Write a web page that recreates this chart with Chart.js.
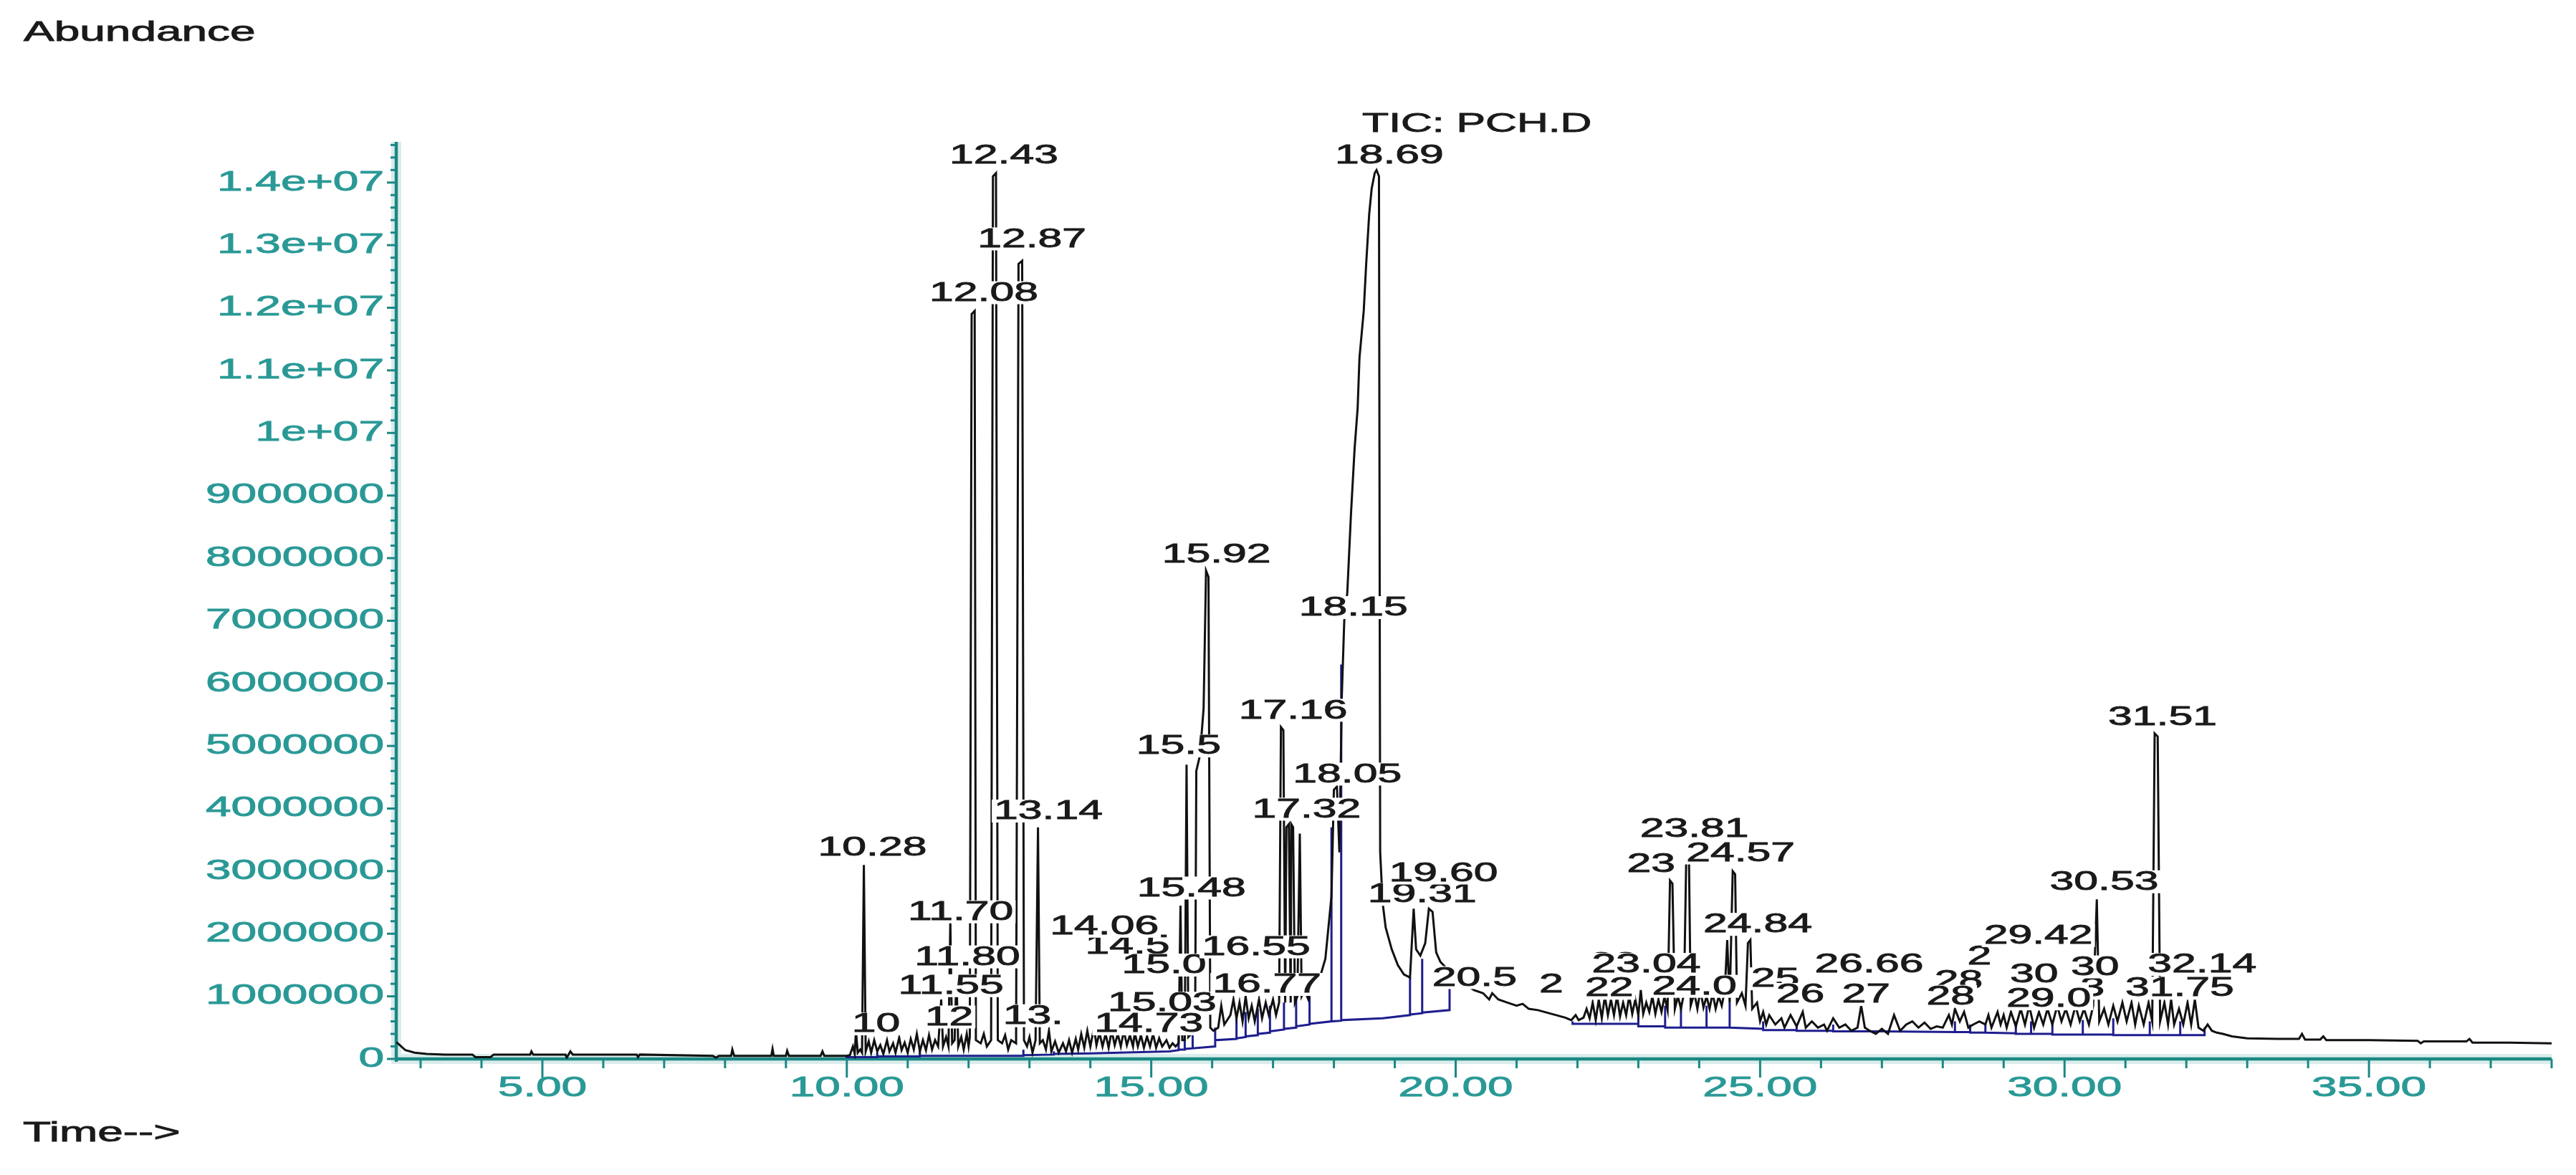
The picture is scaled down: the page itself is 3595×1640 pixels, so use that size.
<!DOCTYPE html>
<html>
<head>
<meta charset="utf-8">
<title>TIC: PCH.D</title>
<script src="https://cdn.jsdelivr.net/npm/chart.js@4.4.1/dist/chart.umd.min.js"></script>
<style>
  html, body { margin: 0; padding: 0; background: #fff; }
  #wrap { width: 3595px; height: 1640px; }
</style>
</head>
<body>
<div id="wrap"><canvas id="chart" width="3595" height="1640" style="width:3595px;height:1640px"></canvas></div>
<script>
// Chromatogram (TIC) – abundances in millions, retention time in minutes
const MILLION = 1e6;
const X_MIN = 2.6, X_MAX = 38.0, Y_MAX_M = 14.65;

// solvent tail and flat part before 10 min
const traceEarly = [
  [2.60,0.27],[2.66,0.22],[2.75,0.14],[2.90,0.10],[3.10,0.08],[3.40,0.07],[3.85,0.07],[3.90,0.03],[4.15,0.03],[4.20,0.07],
  [4.80,0.07],[4.82,0.12],[4.85,0.07],[5.38,0.07],[5.40,0.02],[5.46,0.12],[5.50,0.07],[6.55,0.07],[6.57,0.03],[6.60,0.07],
  [7.80,0.05],[7.85,0.02],[7.90,0.05],[8.10,0.05],[8.12,0.15],[8.15,0.05],[8.76,0.05],[8.78,0.16],[8.80,0.05],[9.00,0.05],
  [9.02,0.13],[9.05,0.05],[9.57,0.05],[9.60,0.12],[9.63,0.05],[10.00,0.05]
];
// 10 – 16 min
const traceA = [
  [10.05,0.06],[10.10,0.20],[10.13,0.08],[10.15,0.45],[10.18,0.10],[10.22,0.15],[10.25,0.10],[10.28,3.10],[10.31,0.12],
  [10.36,0.28],[10.40,0.10],[10.45,0.30],[10.50,0.12],[10.55,0.22],[10.60,0.08],[10.66,0.30],[10.70,0.12],[10.76,0.25],[10.80,0.10],
  [10.86,0.34],[10.90,0.14],[10.95,0.26],[11.00,0.10],[11.05,0.32],[11.10,0.15],[11.15,0.40],[11.20,0.12],[11.25,0.30],[11.30,0.14],
  [11.35,0.38],[11.40,0.15],[11.45,0.30],[11.50,0.20],[11.55,0.95],[11.58,0.20],[11.63,0.35],[11.67,0.20],[11.70,2.20],[11.73,0.25],
  [11.77,0.30],[11.80,1.35],[11.83,0.20],[11.88,0.35],[11.92,0.15],[11.97,0.40],[12.00,0.20],[12.02,0.35],[12.05,11.90],[12.10,11.95],
  [12.12,0.30],[12.20,0.25],[12.25,0.40],[12.30,0.20],[12.37,0.30],[12.40,14.10],[12.45,14.15],[12.48,0.30],[12.55,0.25],[12.60,0.38],
  [12.65,0.15],[12.70,0.30],[12.78,0.25],[12.82,12.70],[12.88,12.75],[12.91,0.30],[12.96,0.20],[13.00,0.35],[13.05,0.10],[13.10,0.30],
  [13.14,3.70],[13.17,0.25],[13.22,0.30],[13.27,0.15],[13.32,0.45],[13.36,0.12],[13.42,0.28],[13.48,0.10],[13.55,0.25],[13.60,0.12],
  [13.65,0.30],[13.70,0.10],[13.76,0.32],[13.80,0.15],[13.85,0.40],[13.90,0.18],[13.95,0.45],[14.00,0.20],[14.06,0.50],[14.10,0.22],
  [14.15,0.42],[14.20,0.20],[14.25,0.40],[14.30,0.18],[14.35,0.45],[14.40,0.22],[14.45,0.40],[14.50,0.20],[14.55,0.45],[14.60,0.22],
  [14.65,0.38],[14.70,0.20],[14.73,0.42],[14.78,0.20],[14.83,0.38],[14.88,0.18],[14.93,0.36],[14.98,0.20],[15.03,0.40],[15.08,0.18],
  [15.13,0.33],[15.18,0.20],[15.25,0.30],[15.30,0.18],[15.35,0.25],[15.40,0.20],[15.45,0.25],[15.48,2.45],[15.51,0.30],[15.55,0.30],
  [15.58,4.70],[15.61,0.35],[15.66,0.40],[15.72,0.45],[15.74,4.60],[15.80,4.85],[15.86,5.60],[15.90,7.80],[15.94,7.70],[15.97,0.50],
  [16.02,0.45]
];
// 16 – 18.8 min, up to the main peak
const traceB = [
  [16.10,0.50],[16.15,0.85],[16.20,0.55],[16.30,0.70],[16.35,0.95],[16.40,0.65],[16.45,0.90],[16.50,0.60],[16.55,1.00],[16.60,0.65],
  [16.65,0.85],[16.70,0.60],[16.77,0.95],[16.82,0.65],[16.88,0.90],[16.93,0.70],[17.00,0.95],[17.05,0.70],[17.10,0.90],[17.13,5.30],
  [17.17,5.25],[17.20,0.90],[17.22,3.70],[17.26,3.75],[17.29,0.90],[17.30,3.75],[17.33,3.70],[17.36,0.90],[17.40,1.00],[17.44,3.60],
  [17.47,1.00],[17.52,1.10],[17.58,0.95],[17.65,1.20],[17.72,1.10],[17.80,1.40],[17.86,1.60],[17.92,2.20],[17.96,2.60],[18.00,4.30],
  [18.05,4.35],[18.09,3.30],[18.13,5.80],[18.17,7.00],[18.22,7.45],[18.28,8.70],[18.34,9.75],[18.39,10.40],[18.42,11.20],[18.49,11.95],
  [18.53,12.70],[18.58,13.50],[18.62,13.90],[18.67,14.15],[18.70,14.20],[18.74,14.10],[18.76,3.30]
];
// tail of the main peak, 18.8 – 22.2 min
const traceC = [
  [18.80,2.50],[18.85,2.10],[18.95,1.75],[19.05,1.50],[19.15,1.35],[19.25,1.30],[19.31,2.40],[19.35,1.75],[19.42,1.65],[19.50,1.85],
  [19.56,2.40],[19.62,2.35],[19.68,1.70],[19.75,1.55],[19.85,1.45],[19.95,1.35],[20.05,1.25],[20.15,1.20],[20.30,1.10],[20.45,1.05],
  [20.55,0.95],[20.60,1.05],[20.70,0.95],[20.85,0.90],[21.00,0.85],[21.10,0.88],[21.20,0.80],[21.35,0.78],[21.50,0.74],[21.65,0.70],
  [21.80,0.66],[21.90,0.62],[21.97,0.70],[22.02,0.62],[22.10,0.66],[22.15,0.80],[22.20,0.65]
];
// 22.2 – 25.1 min
const traceD = [
  [22.25,0.90],[22.30,0.62],[22.35,0.95],[22.40,0.65],[22.45,1.00],[22.50,0.70],[22.55,0.95],[22.60,0.70],[22.65,1.00],[22.70,0.68],
  [22.75,0.90],[22.80,0.70],[22.85,1.00],[22.90,0.72],[22.95,0.95],[23.00,0.70],[23.04,1.10],[23.08,0.72],[23.13,0.90],[23.18,0.75],
  [23.23,1.00],[23.28,0.72],[23.33,0.95],[23.38,0.75],[23.43,1.00],[23.48,0.78],[23.52,2.85],[23.56,2.80],[23.60,0.80],[23.65,1.00],
  [23.70,0.80],[23.75,1.05],[23.79,3.40],[23.83,3.35],[23.86,0.85],[23.92,1.05],[23.97,0.80],[24.02,1.10],[24.07,0.82],[24.12,1.00],
  [24.17,0.80],[24.22,1.05],[24.27,0.80],[24.32,1.00],[24.37,0.85],[24.42,1.10],[24.46,1.90],[24.50,0.90],[24.55,3.00],[24.59,2.95],
  [24.62,0.90],[24.70,1.05],[24.76,0.85],[24.80,1.85],[24.84,1.90],[24.87,0.80],[24.95,0.90],[25.00,0.60],[25.05,0.75],[25.10,0.55]
];
// 25.1 – 38 min
const traceE = [
  [25.15,0.70],[25.25,0.55],[25.35,0.65],[25.40,0.50],[25.50,0.70],[25.60,0.52],[25.70,0.75],[25.75,0.50],[25.85,0.60],[25.95,0.50],
  [26.05,0.55],[26.10,0.45],[26.20,0.65],[26.30,0.50],[26.40,0.55],[26.50,0.45],[26.60,0.50],[26.66,0.85],[26.72,0.50],[26.80,0.45],
  [26.90,0.40],[27.00,0.48],[27.10,0.40],[27.20,0.70],[27.30,0.45],[27.40,0.55],[27.50,0.60],[27.60,0.50],[27.70,0.58],[27.80,0.48],
  [27.90,0.52],[28.00,0.50],[28.10,0.70],[28.15,0.55],[28.20,0.80],[28.28,0.60],[28.35,0.75],[28.42,0.50],[28.50,0.55],[28.60,0.60],
  [28.70,0.55],[28.75,0.70],[28.80,0.50],[28.90,0.75],[28.95,0.55],[29.00,0.70],[29.05,0.50],[29.12,0.75],[29.20,0.52],[29.28,0.80],
  [29.35,0.55],[29.42,0.85],[29.50,0.50],[29.58,0.75],[29.65,0.55],[29.72,0.80],[29.80,0.55],[29.88,0.85],[29.95,0.60],[30.02,0.80],
  [30.10,0.55],[30.18,0.85],[30.25,0.60],[30.32,0.80],[30.40,0.55],[30.47,0.85],[30.53,2.55],[30.57,0.60],[30.65,0.80],[30.72,0.55],
  [30.80,0.85],[30.87,0.60],[30.95,0.90],[31.02,0.60],[31.10,0.90],[31.16,0.55],[31.22,0.85],[31.30,0.55],[31.38,0.90],[31.44,0.60],
  [31.48,5.20],[31.53,5.15],[31.57,0.60],[31.64,0.90],[31.70,0.55],[31.75,0.95],[31.80,0.55],[31.88,0.80],[31.95,0.55],[32.02,0.90],
  [32.08,0.55],[32.14,0.95],[32.20,0.50],[32.28,0.45],[32.35,0.55],[32.42,0.45],[32.50,0.42],[32.60,0.40],[32.75,0.36],[33.00,0.33],
  [33.50,0.32],[33.85,0.32],[33.90,0.40],[33.95,0.31],[34.20,0.31],[34.25,0.36],[34.30,0.30],[35.00,0.30],[35.80,0.29],[35.85,0.25],
  [35.90,0.28],[36.60,0.28],[36.65,0.32],[36.70,0.26],[37.30,0.26],[38.00,0.25]
];

// integration baseline (blue), null = break
const baseline = [
  [9.98,0.03],[10.50,0.03],[10.50,0.10],[10.50,0.04],[11.20,0.04],[11.20,0.12],[11.20,0.05],[12.90,0.05],[12.90,0.15],[12.90,0.06],
  [13.40,0.07],[13.40,0.12],[13.40,0.08],[14.00,0.09],[15.30,0.12],[15.45,0.14],[15.45,0.35],[15.45,0.15],[15.55,0.15],[15.55,0.40],
  [15.55,0.16],[15.68,0.17],[15.68,0.45],[15.68,0.17],[16.05,0.20],[16.05,0.50],[16.05,0.30],[16.40,0.32],[16.40,0.70],[16.40,0.33],
  [16.55,0.35],[16.55,0.75],[16.55,0.36],[16.75,0.38],[16.75,0.80],[16.75,0.40],[16.95,0.42],[16.95,0.85],[16.95,0.44],[17.18,0.47],
  [17.18,0.90],[17.18,0.48],[17.38,0.50],[17.38,0.95],[17.38,0.52],[17.60,0.55],[17.60,1.00],[17.60,0.56],[17.96,0.60],[17.96,3.70],
  [17.96,0.60],[18.12,0.61],[18.12,6.30],[18.12,0.62],[18.80,0.65],[19.25,0.70],[19.25,1.30],[19.25,0.71],[19.45,0.73],[19.45,1.60],
  [19.45,0.74],[19.90,0.78],[19.90,1.35],[20.00,null],
  [21.92,0.60],[21.92,0.56],[23.00,0.56],[23.00,0.80],[23.00,0.52],[23.44,0.52],[23.44,0.85],[23.44,0.50],[23.70,0.50],[23.70,0.90],
  [23.70,0.50],[24.12,0.50],[24.12,0.85],[24.12,0.50],[24.50,0.50],[24.50,0.90],[24.50,0.50],[25.05,0.48],[25.05,0.60],[25.05,0.46],
  [25.60,0.46],[25.60,0.55],[25.60,0.45],[26.20,0.45],[26.20,0.55],[26.20,0.44],[27.00,0.44],[28.20,0.43],[28.20,0.60],[28.20,0.43],
  [28.45,0.43],[28.45,0.55],[28.45,0.42],[28.70,0.42],[28.70,0.55],[28.70,0.42],[29.20,0.41],[29.20,0.60],[29.20,0.40],[29.45,0.40],
  [29.45,0.60],[29.45,0.40],[29.80,0.40],[29.80,0.60],[29.80,0.39],[30.30,0.39],[30.30,0.62],[30.30,0.39],[30.80,0.39],[30.80,0.65],
  [30.80,0.38],[31.40,0.38],[31.40,0.60],[31.40,0.38],[31.90,0.38],[31.90,0.60],[31.90,0.38],[32.30,0.38],[32.30,0.50]
];

// peak labels: text, centre time (min), centre level (millions)
const peakText  = ['10.28','10','11.55','11.70','11.80','12','12.08','12.43','12.87','13.14','13.','14.06','14.5','15.0','15.03','14.73','15.48','15.5','15.92','16.55','16.77','17.16','17.32','18.05','18.15','18.69','19.31','19.60','20.5','2','22','22','23.04','24.0','23','23.81','24.57','24.84','25','26','26.66','27','28','28','29.42','2','30','29.0','30','3','30.53','31.51','32.14','31.75'];
const peakTime  = [10.42,10.48,11.71,11.87,11.98,11.68,12.25,12.58,13.04,13.31,13.06,14.23,14.61,15.21,15.18,14.96,15.66,15.45,16.07,16.72,16.90,17.33,17.55,18.22,18.32,18.91,19.45,19.80,20.31,21.57,22.59,22.52,23.13,23.92,23.21,23.92,24.68,24.96,25.25,25.66,26.79,26.74,28.26,28.13,29.57,28.60,29.50,29.74,30.50,30.46,30.65,31.61,32.26,31.89];
const peakLevel = [3.38,0.56,1.17,2.35,1.63,0.67,12.24,14.44,13.10,3.96,0.69,2.12,1.81,1.50,0.89,0.56,2.73,5.00,8.06,1.79,1.19,5.57,3.99,4.55,7.21,14.44,2.63,2.97,1.30,1.19,1.54,1.13,1.51,1.16,3.11,3.68,3.29,2.15,1.28,1.03,1.51,1.03,1.25,1.00,1.97,1.64,1.35,0.96,1.47,1.13,2.83,5.46,1.51,1.13];

const xTickValues = [5, 10, 15, 20, 25, 30, 35];
const xTickLabels = ['5.00', '10.00', '15.00', '20.00', '25.00', '30.00', '35.00'];
const yTickValues = [0,1,2,3,4,5,6,7,8,9,10,11,12,13,14];
const yTickLabels = ['0','1000000','2000000','3000000','4000000','5000000','6000000','7000000','8000000','9000000','1e+07','1.1e+07','1.2e+07','1.3e+07','1.4e+07'];

const AXIS_TEAL = '#1b8884';
const TICK_TEAL = '#2a9996';
const TEXT_STRETCH = 1.64;   // the instrument print is widened horizontally

const toPoints = arr => arr.map(([t, a]) => ({ x: t, y: a === null ? null : a * MILLION }));
const trace = [].concat(traceEarly, traceA, traceB, traceC, traceD, traceE);

// widened text, lightly stroked to get the heavier print look
function wideText(ctx, text, x, y, align) {
  ctx.save();
  ctx.translate(x, y);
  ctx.scale(TEXT_STRETCH, 1);
  ctx.textAlign = align;
  ctx.textBaseline = 'middle';
  ctx.lineWidth = 0.9;
  ctx.strokeStyle = ctx.fillStyle;
  ctx.fillText(text, 0, 0);
  ctx.strokeText(text, 0, 0);
  ctx.restore();
}

const decor = {
  id: 'decor',
  beforeDatasetsDraw(chart) {
    const ctx = chart.ctx;
    const xs = chart.scales.x, ys = chart.scales.y;
    const y0 = ys.getPixelForValue(0);
    ctx.save();
    // axis lines with a soft halo like the scanned print
    ctx.strokeStyle = 'rgba(27,136,132,0.16)';
    ctx.lineWidth = 14;
    ctx.beginPath(); ctx.moveTo(xs.left, ys.top); ctx.lineTo(xs.left, y0); ctx.lineTo(xs.right, y0); ctx.stroke();
    ctx.strokeStyle = AXIS_TEAL;
    ctx.lineWidth = 4.5;
    ctx.beginPath(); ctx.moveTo(xs.left, ys.top); ctx.lineTo(xs.left, y0 + 4); ctx.moveTo(xs.left, y0); ctx.lineTo(xs.right, y0); ctx.stroke();

    // x ticks: every minute, longer every 5
    ctx.lineWidth = 3;
    for (let m = Math.ceil(X_MIN); m <= X_MAX; m++) {
      const px = xs.getPixelForValue(m);
      const len = m % 5 === 0 ? 26 : 13;
      ctx.beginPath(); ctx.moveTo(px, y0); ctx.lineTo(px, y0 + len); ctx.stroke();
    }
    // y ticks: every 200000
    for (let k = 0; k * 0.2 <= Y_MAX_M; k++) {
      const py = ys.getPixelForValue(k * 0.2 * MILLION);
      const len = k % 5 === 0 ? 13 : 8;
      ctx.beginPath(); ctx.moveTo(xs.left, py); ctx.lineTo(xs.left - len, py); ctx.stroke();
    }

    // tick labels
    ctx.fillStyle = TICK_TEAL;
    ctx.font = '39px "Liberation Sans", Arial, sans-serif';
    xTickValues.forEach((v, i) => wideText(ctx, xTickLabels[i], xs.getPixelForValue(v), y0 + 41, 'center'));
    yTickValues.forEach((v, i) => wideText(ctx, yTickLabels[i], xs.left - 17, ys.getPixelForValue(v * MILLION), 'right'));
    ctx.restore();
  },
  afterDatasetsDraw(chart) {
    const ctx = chart.ctx;
    const xs = chart.scales.x, ys = chart.scales.y;
    ctx.save();
    ctx.font = '37px "Liberation Sans", Arial, sans-serif';
    // short fragments first, full retention times on top
    const order = peakText.map((_, i) => i).sort((a, b) => peakText[a].length - peakText[b].length);
    order.forEach(i => {
      const px = xs.getPixelForValue(peakTime[i]);
      const py = ys.getPixelForValue(peakLevel[i] * MILLION);
      const w = ctx.measureText(peakText[i]).width * TEXT_STRETCH + 6;
      ctx.fillStyle = '#ffffff';
      ctx.fillRect(px - w / 2, py - 16, w, 32);
      ctx.fillStyle = '#1a1a1a';
      wideText(ctx, peakText[i], px, py + 1, 'center');
    });
    // file name above the main peak
    ctx.fillStyle = '#1a1a1a';
    wideText(ctx, 'TIC: PCH.D', xs.getPixelForValue(20.35), ys.getPixelForValue(14.93 * MILLION), 'center');
    // axis titles
    ctx.font = '39px "Liberation Sans", Arial, sans-serif';
    wideText(ctx, 'Abundance', 33, 46, 'left');
    wideText(ctx, 'Time-->', 32, 1582, 'left');
    ctx.restore();
  }
};

new Chart(document.getElementById('chart'), {
  type: 'line',
  data: {
    datasets: [
      {
        label: 'TIC: PCH.D',
        data: toPoints(trace),
        borderColor: '#111111',
        borderWidth: 3,
        pointRadius: 0,
        tension: 0
      },
      {
        label: 'Baseline',
        data: toPoints(baseline),
        borderColor: '#1e1e8e',
        borderWidth: 3,
        pointRadius: 0,
        tension: 0,
        spanGaps: false
      }
    ]
  },
  options: {
    responsive: false,
    animation: false,
    events: [],
    layout: { padding: { left: 553, right: 34, top: 198, bottom: 162 } },
    scales: {
      x: { type: 'linear', min: X_MIN, max: X_MAX, display: false },
      y: { type: 'linear', min: 0, max: Y_MAX_M * MILLION, display: false }
    },
    plugins: { legend: { display: false }, tooltip: { enabled: false } }
  },
  plugins: [decor]
});
</script>
</body>
</html>
